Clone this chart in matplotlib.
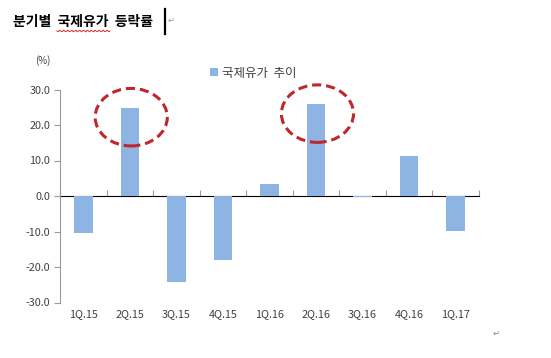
import numpy as np
import matplotlib
matplotlib.use("Agg")
import matplotlib.pyplot as plt
from matplotlib.patches import Ellipse

plt.rcParams['font.family'] = ['Noto Sans CJK KR', 'DejaVu Sans']

quarters = ["1Q.15", "2Q.15", "3Q.15", "4Q.15", "1Q.16", "2Q.16", "3Q.16", "4Q.16", "1Q.17"]
oil_change = [-10.5, 24.9, -24.2, -17.9, 3.4, 25.9, -0.2, 11.3, -9.8]
y_ticks = [-30, -20, -10, 0, 10, 20, 30]
highlight = [1, 5]  # quarters circled in red

bar_color = "#8EB4E3"
axis_gray = "#9a9a9a"
text_gray = "#404040"

fig = plt.figure(figsize=(5.51, 3.58), dpi=100)
ax = fig.add_axes([60 / 551, 1 - 302.5 / 358, 419 / 551, 213 / 358])

x = np.arange(len(quarters))
ax.bar(x, oil_change, width=0.4, color=bar_color, label="국제유가  추이", zorder=2)

ax.set_xlim(-0.5, len(quarters) - 0.5)
ax.set_ylim(-30, 30)
ax.set_yticks(y_ticks)
ax.set_yticklabels([f"{v:.1f}" for v in y_ticks], fontsize=7.8, color=text_gray)
ax.set_xticks(x)
ax.set_xticklabels(quarters, fontsize=7.8, color=text_gray)
ax.tick_params(axis='x', length=0, pad=5)
ax.tick_params(axis='y', length=4, color=axis_gray, width=0.8, pad=3)

for s in ["top", "right", "bottom"]:
    ax.spines[s].set_visible(False)
ax.spines["left"].set_color(axis_gray)
ax.spines["left"].set_linewidth(0.8)

# zero line with category boundary ticks
zero_ax = ax.secondary_xaxis(0.5)
zero_ax.set_xticks(np.arange(-0.5, len(quarters), 1.0))
zero_ax.set_xticklabels([])
zero_ax.tick_params(length=4, color=axis_gray, width=0.8, direction='out')
zero_ax.spines["bottom"].set_color(axis_gray)
zero_ax.spines["bottom"].set_linewidth(0.8)

# red dashed circles around the two big rises
for i in highlight:
    ax.add_patch(Ellipse((i + 0.03, oil_change[i] - 2.7), width=1.55, height=16.2,
                         fill=False, edgecolor="#C0272D", linestyle=(0, (3, 1.6)),
                         linewidth=2.2, zorder=3, clip_on=False))

ax.legend(loc='center left', bbox_to_anchor=(204 / 551, 1 - 73 / 358),
          bbox_transform=fig.transFigure, frameon=False, fontsize=9,
          handlelength=0.6, handleheight=0.6, handletextpad=0.3, borderpad=0,
          labelcolor=text_gray)

fig.text(43 / 551, 1 - 61 / 358, "(%)", fontsize=7, color=text_gray, ha='center', va='center')

# document title
fig.text(13 / 551, 1 - 22 / 358, "분기별  국제유가  등락률", fontsize=10, fontweight='bold',
         color='black', ha='left', va='center')
wave_x = np.linspace(57, 110, 40)
wave_y = 31 + 0.9 * np.sin((wave_x - 57) * 1.6)
fig.add_artist(plt.Line2D(wave_x / 551, 1 - wave_y / 358, color='#d03030', lw=0.7))
fig.add_artist(plt.Line2D([165 / 551, 165 / 551], [1 - 9 / 358, 1 - 34 / 358], color='black', lw=1.6))
fig.text(168 / 551, 1 - 20 / 358, "↵", fontsize=6, color='#999999', ha='left', va='center',
         family=['DejaVu Sans'])
fig.text(493 / 551, 1 - 333 / 358, "↵", fontsize=6, color='#888888', ha='left', va='center',
         family=['DejaVu Sans'])

fig.savefig("out.png", dpi=100, facecolor='white')
